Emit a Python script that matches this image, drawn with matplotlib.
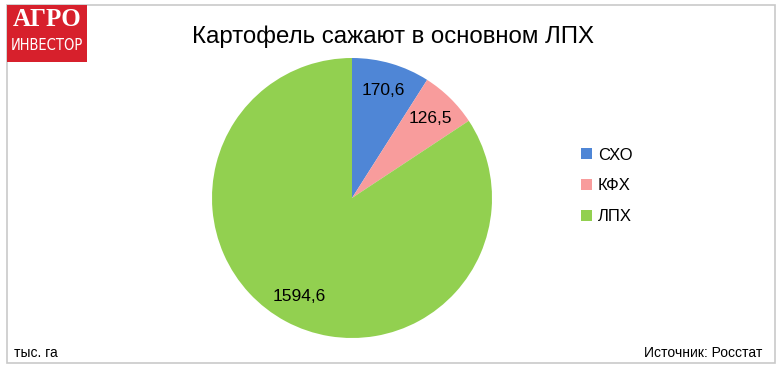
import matplotlib
matplotlib.use('Agg')
import matplotlib.pyplot as plt
from matplotlib.patches import Rectangle

categories = ['СХО', 'КФХ', 'ЛПХ']
values = [170.6, 126.5, 1594.6]
value_labels = ['170,6', '126,5', '1594,6']
colors = ['#4f86d6', '#f89c9c', '#92d050']

plt.rcParams['font.family'] = ['Liberation Sans', 'DejaVu Sans']

W, H = 780, 371
fig = plt.figure(figsize=(W / 100, H / 100), dpi=100)
fig.patch.set_facecolor('white')

# outer frame
fig.patches.append(Rectangle((7 / W, 8 / H), 768 / W, 358 / H, transform=fig.transFigure,
                             fill=False, edgecolor='#c9c9c9', linewidth=1.2))

# logo
fig.patches.append(Rectangle((7 / W, (H - 62) / H), 80 / W, 57 / H, transform=fig.transFigure,
                             facecolor='#d7202c', edgecolor='none', zorder=5))
fig.text(47 / W, (H - 20) / H, 'АГРО', color='white', fontsize=18, fontweight='bold',
         family=['Liberation Serif', 'DejaVu Serif'], ha='center', va='center', zorder=6)
fig.text(47 / W, (H - 45) / H, 'ИНВЕСТОР', color='white', fontsize=10.5,
         family='DejaVu Sans', fontstretch='condensed',
         ha='center', va='center', zorder=6)

fig.text(393 / W, (H - 37) / H, 'Картофель сажают в основном ЛПХ', fontsize=17.3,
         ha='center', va='center', color='black')

ax = fig.add_axes([212 / W, 33 / H, 280 / W, 280 / H])
wedges, texts = ax.pie(values, labels=value_labels, colors=colors, startangle=90,
                       counterclock=False, labeldistance=0.8, radius=1,
                       textprops={'fontsize': 12.5, 'ha': 'center', 'va': 'center'})
ax.set_xlim(-1, 1)
ax.set_ylim(-1, 1)
ax.set_aspect('equal')
ax.axis('off')

leg = fig.legend(wedges, categories, loc='center left', bbox_to_anchor=(566 / W, (H - 186) / H),
                 frameon=False, fontsize=12, handlelength=0.65, handleheight=0.65,
                 handletextpad=0.35, labelspacing=0.95)

fig.text(14 / W, (H - 353) / H, 'тыс. га', fontsize=10, ha='left', va='center')
fig.text(762 / W, (H - 353) / H, 'Источник: Росстат', fontsize=10, ha='right', va='center')

fig.savefig('out.png', dpi=100)
